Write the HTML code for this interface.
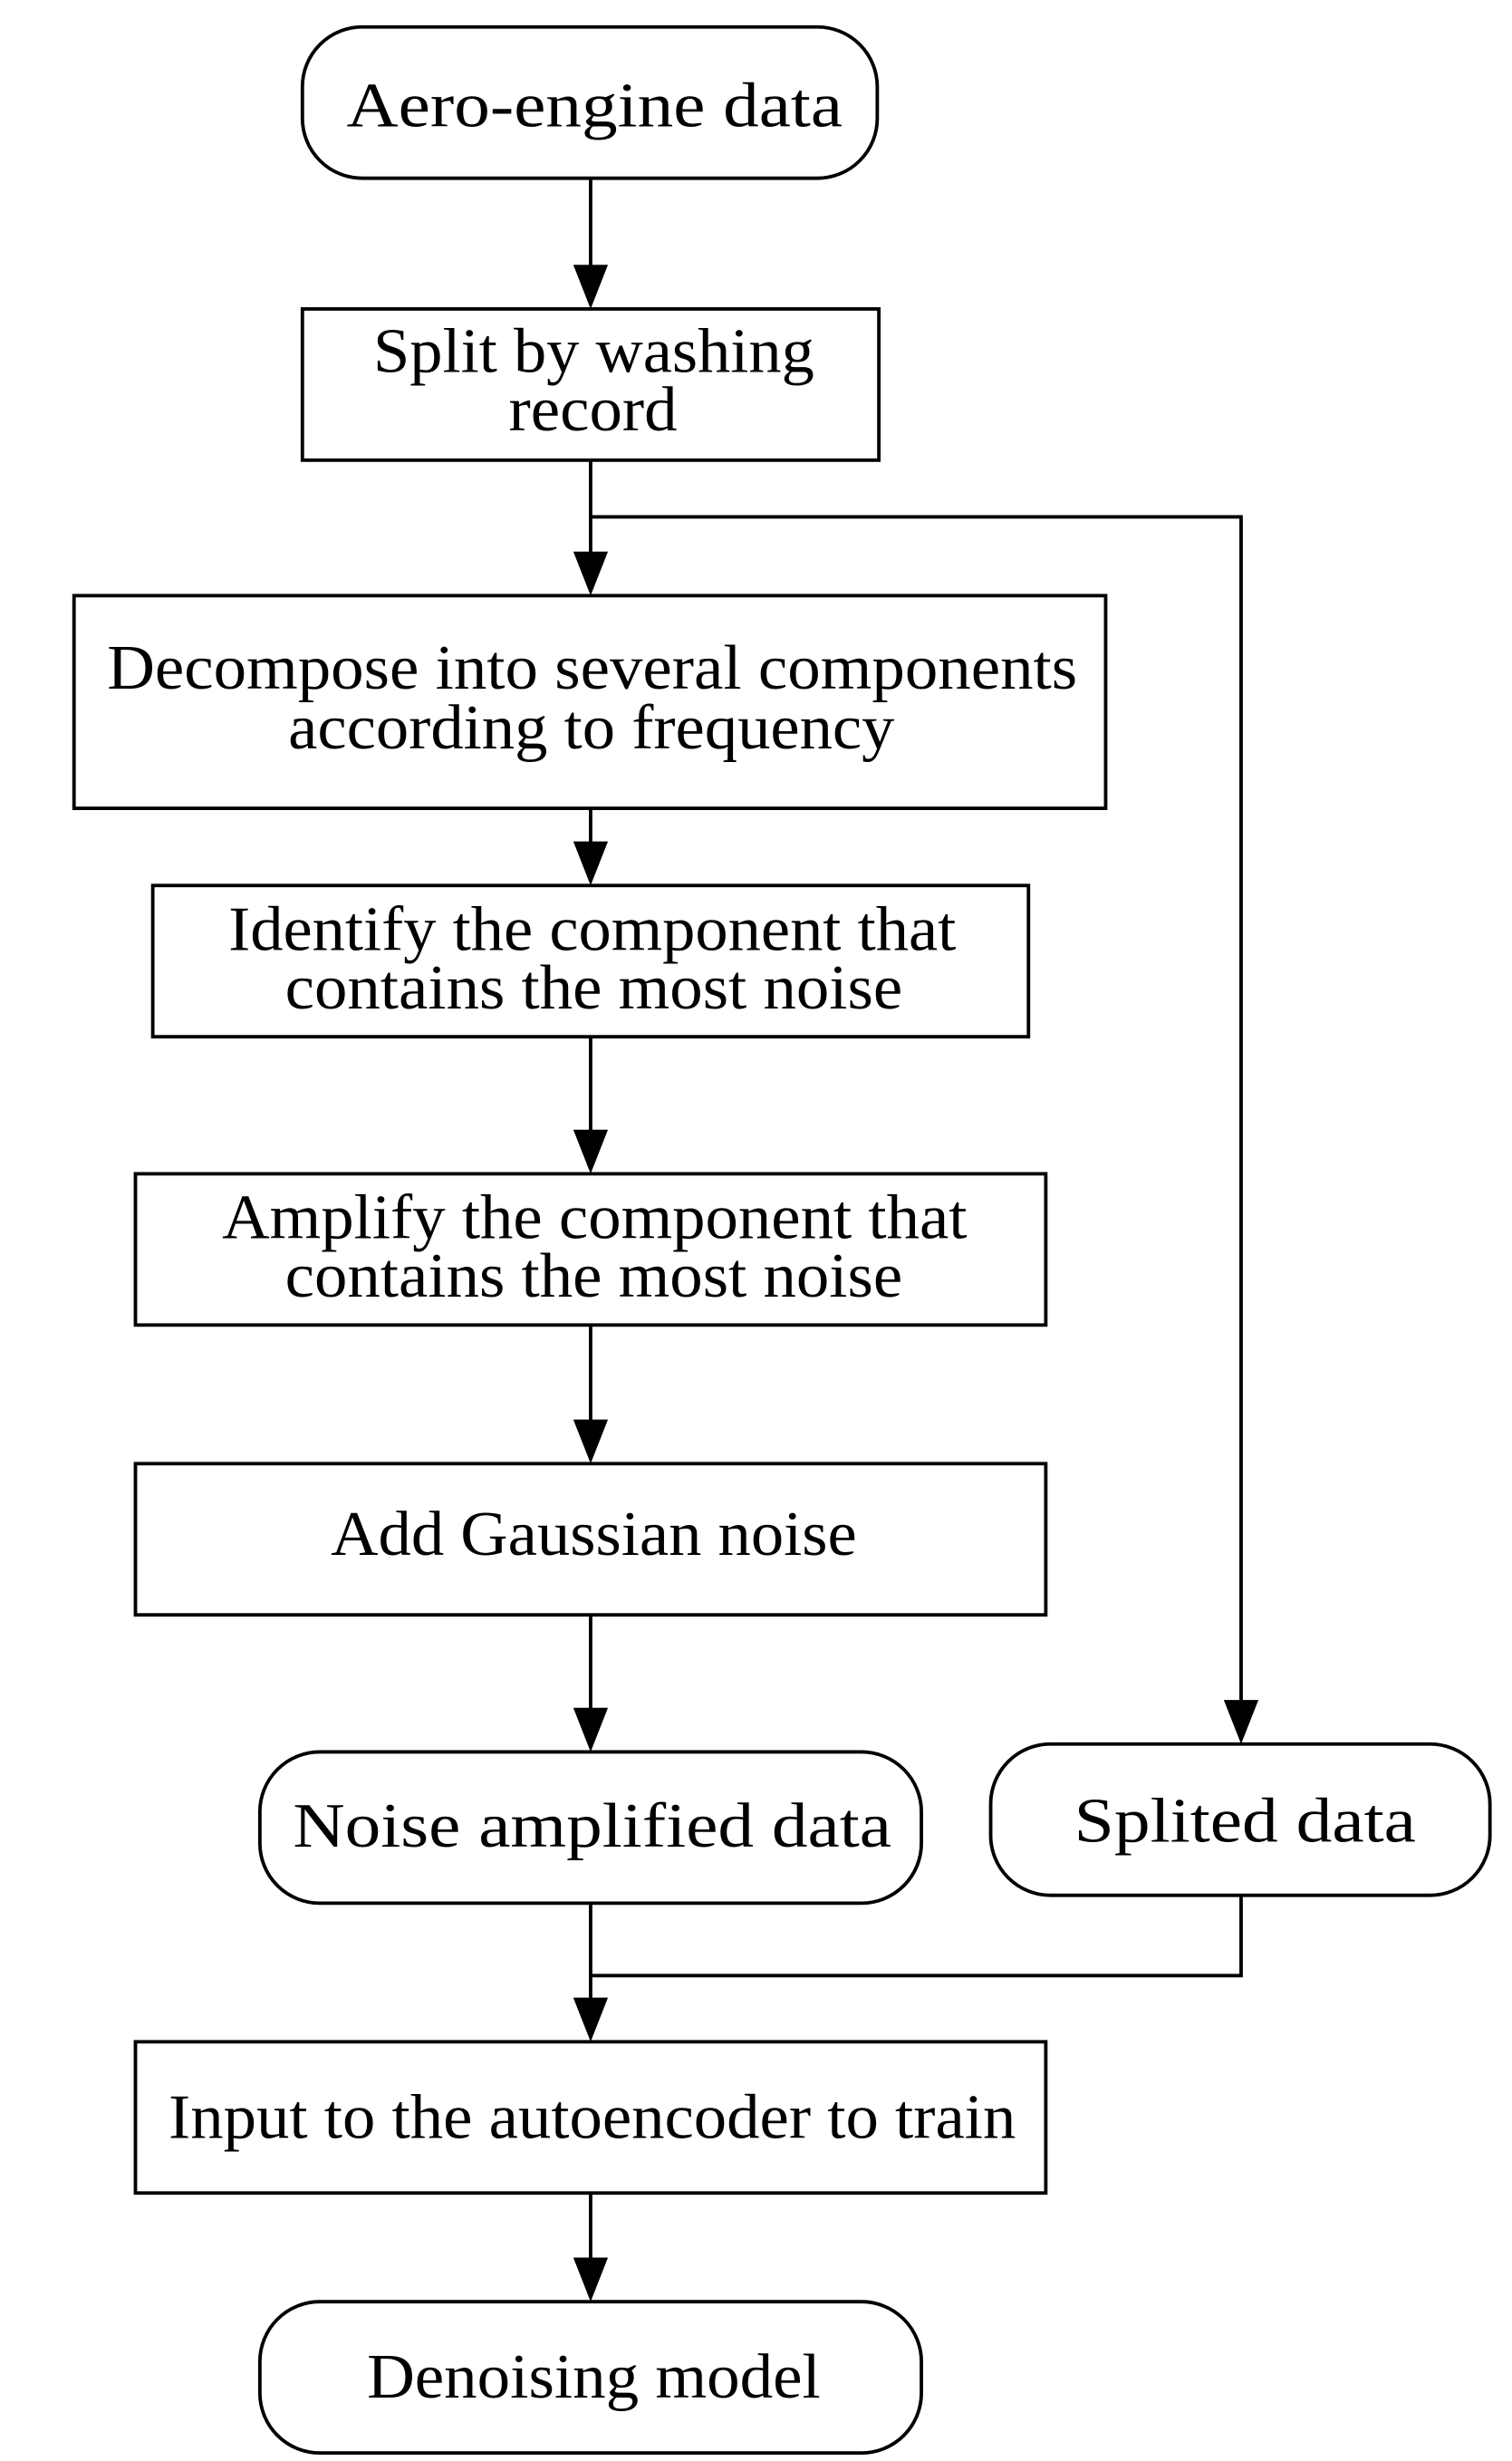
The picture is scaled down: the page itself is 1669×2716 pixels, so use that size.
<!DOCTYPE html>
<html><head><meta charset="utf-8"><style>html,body{margin:0;padding:0;background:#fff}svg{display:block}</style></head>
<body>
<svg width="1669" height="2716" viewBox="0 0 960 1562" xmlns="http://www.w3.org/2000/svg">
<g fill="none" stroke="#000" stroke-width="2.2">
<rect x="192" y="17" width="365" height="96" rx="38"/>
<rect x="192" y="196" width="366" height="96"/>
<rect x="47" y="378" width="655" height="135"/>
<rect x="97" y="562" width="556" height="96"/>
<rect x="86" y="745" width="578" height="96"/>
<rect x="86" y="929" width="578" height="96"/>
<rect x="165" y="1112" width="420" height="96" rx="38"/>
<rect x="629" y="1107" width="317" height="96" rx="38"/>
<rect x="86" y="1296" width="578" height="96"/>
<rect x="165" y="1461" width="420" height="96" rx="38"/>
<path d="M375 113V170M375 292V352M375 513V536M375 658V719M375 841V903M375 1025V1086M375 1208V1270M375 1392V1435"/>
<path d="M375 328H788V1081M788 1203V1254H375"/>
</g>
<g fill="#000">
<path d="M364 168L375 196L386 168z"/>
<path d="M364 350L375 378L386 350z"/>
<path d="M364 534L375 562L386 534z"/>
<path d="M364 717L375 745L386 717z"/>
<path d="M364 901L375 929L386 901z"/>
<path d="M364 1084L375 1112L386 1084z"/>
<path d="M777 1079L788 1107L799 1079z"/>
<path d="M364 1268L375 1296L386 1268z"/>
<path d="M364 1433L375 1461L386 1433z"/>
</g>
<g font-family="Liberation Serif, serif" font-size="40" fill="#000" lengthAdjust="spacingAndGlyphs">
<text x="220" y="80" textLength="315" lengthAdjust="spacingAndGlyphs">Aero-engine data</text>
<text x="237" y="236" textLength="280" lengthAdjust="spacingAndGlyphs">Split by washing</text>
<text x="323" y="273" textLength="107" lengthAdjust="spacingAndGlyphs">record</text>
<text x="68" y="437" textLength="616" lengthAdjust="spacingAndGlyphs">Decompose into several components</text>
<text x="183" y="475" textLength="385" lengthAdjust="spacingAndGlyphs">according to frequency</text>
<text x="145" y="603" textLength="462" lengthAdjust="spacingAndGlyphs">Identify the component that</text>
<text x="181" y="640" textLength="392" lengthAdjust="spacingAndGlyphs">contains the most noise</text>
<text x="141" y="786" textLength="473" lengthAdjust="spacingAndGlyphs">Amplify the component that</text>
<text x="181" y="823" textLength="392" lengthAdjust="spacingAndGlyphs">contains the most noise</text>
<text x="210" y="987" textLength="334" lengthAdjust="spacingAndGlyphs">Add Gaussian noise</text>
<text x="186" y="1172" textLength="380" lengthAdjust="spacingAndGlyphs">Noise amplified data</text>
<text x="682" y="1169" textLength="217" lengthAdjust="spacingAndGlyphs">Splited data</text>
<text x="107" y="1357" textLength="538" lengthAdjust="spacingAndGlyphs">Input to the autoencoder to train</text>
<text x="233" y="1522" textLength="288" lengthAdjust="spacingAndGlyphs">Denoising model</text>
</g>
</svg>
</body></html>
